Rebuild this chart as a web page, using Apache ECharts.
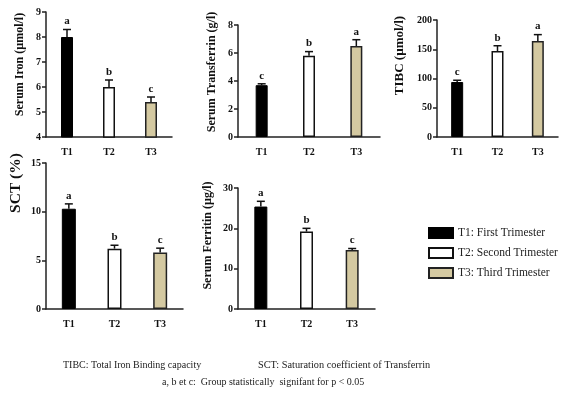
<!DOCTYPE html>
<html>
<head>
<meta charset="utf-8">
<script src="https://cdn.jsdelivr.net/npm/echarts@6/dist/echarts.min.js"></script>
<style>
html, body { margin: 0; padding: 0; background: #fff; }
#main { width: 578px; height: 396px; }
</style>
</head>
<body>
<div id="main"></div>
<script>
// groups
var categories = ['T1', 'T2', 'T3'];
var groupNames = ['T1: First Trimester', 'T2: Second Trimester', 'T3: Third Trimester'];

// serum iron (µmol/l)
var ironMean = [8.0, 6.0, 5.4];
var ironErr = [0.3, 0.28, 0.2];
var ironSig = ['a', 'b', 'c'];

// serum transferrin (g/l)
var transMean = [3.7, 5.8, 6.5];
var transErr = [0.1, 0.3, 0.45];
var transSig = ['c', 'b', 'a'];

// TIBC (µmol/l)
var tibcMean = [94, 147, 164];
var tibcErr = [3, 9, 11];
var tibcSig = ['c', 'b', 'a'];

// SCT (%)
var sctMean = [10.3, 6.2, 5.8];
var sctErr = [0.5, 0.35, 0.45];
var sctSig = ['a', 'b', 'c'];

// serum ferritin (µg/l)
var ferMean = [25.4, 19.2, 14.6];
var ferErr = [1.3, 0.8, 0.4];
var ferSig = ['a', 'b', 'c'];

var FONT = 'Liberation Serif';
var barStyles = [
    { color: '#000000', borderColor: '#000000', borderWidth: 1 },
    { color: '#ffffff', borderColor: '#111111', borderWidth: 1.5 },
    { color: '#d4c9a1', borderColor: '#222222', borderWidth: 1.5 }
];

var panels = [
    { name: 'Serum Iron (µmol/l)', mean: ironMean, err: ironErr, sig: ironSig,
      min: 4, max: 9, interval: 1, grid: { left: 46, top: 12, width: 126, height: 125 },
      barWidth: 12, nameGap: 20, shift: 20, nameSize: 12 },
    { name: 'Serum Transferrin (g/l)', mean: transMean, err: transErr, sig: transSig,
      min: 0, max: 8, interval: 2, grid: { left: 238, top: 25, width: 142, height: 112 },
      barWidth: 12, nameGap: 20, shift: 18, nameSize: 12 },
    { name: 'TIBC (µmol/l)', mean: tibcMean, err: tibcErr, sig: tibcSig,
      min: 0, max: 200, interval: 50, grid: { left: 437, top: 20, width: 121, height: 117 },
      barWidth: 12, nameGap: 31, shift: 46, nameSize: 13 },
    { name: 'SCT (%)', mean: sctMean, err: sctErr, sig: sctSig,
      min: 0, max: 15, interval: 5, grid: { left: 46, top: 163, width: 137, height: 146 },
      barWidth: 14, nameGap: 22, shift: 106, nameSize: 15.5 },
    { name: 'Serum Ferritin (µg/l)', mean: ferMean, err: ferErr, sig: ferSig,
      min: 0, max: 30, interval: 10, grid: { left: 238, top: 188, width: 137, height: 121 },
      barWidth: 13, nameGap: 24, shift: 26, nameSize: 12 }
];

var grids = [], xAxes = [], yAxes = [], series = [];

panels.forEach(function (p, k) {
    grids.push(p.grid);
    xAxes.push({
        type: 'category',
        gridIndex: k,
        data: categories,
        axisTick: { show: false },
        axisLine: { lineStyle: { color: '#222', width: 1.5 } },
        axisLabel: { fontFamily: FONT, fontWeight: 'bold', fontSize: 10, color: '#111', margin: 10 }
    });
    yAxes.push({
        type: 'value',
        gridIndex: k,
        min: p.min,
        max: p.max,
        interval: p.interval,
        name: p.name,
        nameLocation: 'middle',
        nameGap: p.nameGap,
        nameTextStyle: {
            fontFamily: FONT, fontWeight: 'bold', fontSize: p.nameSize, color: '#111',
            padding: [0, 0, 0, p.shift]
        },
        splitLine: { show: false },
        axisLine: { show: true, lineStyle: { color: '#222', width: 1.5 } },
        axisTick: { show: true, length: 4, lineStyle: { color: '#222', width: 1.5 } },
        axisLabel: { fontFamily: FONT, fontWeight: 'bold', fontSize: 10, color: '#111', margin: 5 }
    });

    // one bar series per trimester, overlapped on its own category
    for (var g = 0; g < 3; g++) {
        var d = categories.map(function (c, i) { return i === g ? p.mean[i] : '-'; });
        series.push({
            type: 'bar',
            name: groupNames[g],
            xAxisIndex: k,
            yAxisIndex: k,
            data: d,
            barWidth: p.barWidth,
            barGap: '-100%',
            itemStyle: barStyles[g],
            emphasis: { disabled: true }
        });
    }

    // error whiskers + significance letters
    series.push({
        type: 'custom',
        xAxisIndex: k,
        yAxisIndex: k,
        data: categories.map(function (c, i) { return [i, p.mean[i], p.err[i]]; }),
        renderItem: function (params, api) {
            var i = api.value(0), m = api.value(1), e = api.value(2);
            var p0 = api.coord([i, m]);
            var p1 = api.coord([i, m + e]);
            var st = { stroke: '#111', lineWidth: 1.5 };
            return {
                type: 'group',
                children: [
                    { type: 'line', shape: { x1: p0[0], y1: p0[1], x2: p1[0], y2: p1[1] }, style: st },
                    { type: 'line', shape: { x1: p1[0] - 4, y1: p1[1], x2: p1[0] + 4, y2: p1[1] }, style: st },
                    { type: 'text', x: p1[0], y: p1[1] - 8,
                      style: { text: p.sig[params.dataIndex], fontFamily: FONT, fontWeight: 'bold',
                               fontSize: 11, fill: '#111', align: 'center', verticalAlign: 'middle' } }
                ]
            };
        },
        z: 5
    });
});

var chart = echarts.init(document.getElementById('main'));
chart.setOption({
    animation: false,
    backgroundColor: '#fff',
    grid: grids,
    xAxis: xAxes,
    yAxis: yAxes,
    legend: {
        data: groupNames.map(function (n) { return { name: n, icon: 'rect' }; }),
        orient: 'vertical',
        left: 423,
        top: 222,
        itemWidth: 24,
        itemHeight: 10,
        itemGap: 8,
        selectedMode: false,
        textStyle: { fontFamily: FONT, fontSize: 11.5, color: '#222' }
    },
    graphic: [
        { type: 'text', left: 63, top: 360,
          style: { text: 'TIBC: Total Iron Binding capacity', fontFamily: FONT, fontSize: 10, fill: '#222' } },
        { type: 'text', left: 258, top: 360,
          style: { text: 'SCT: Saturation coefficient of Transferrin', fontFamily: FONT, fontSize: 10.3, fill: '#222' } },
        { type: 'text', left: 162, top: 377,
          style: { text: 'a, b et c:  Group statistically  signifant for p < 0.05', fontFamily: FONT, fontSize: 10, fill: '#222' } }
    ],
    series: series
});
</script>
</body>
</html>
